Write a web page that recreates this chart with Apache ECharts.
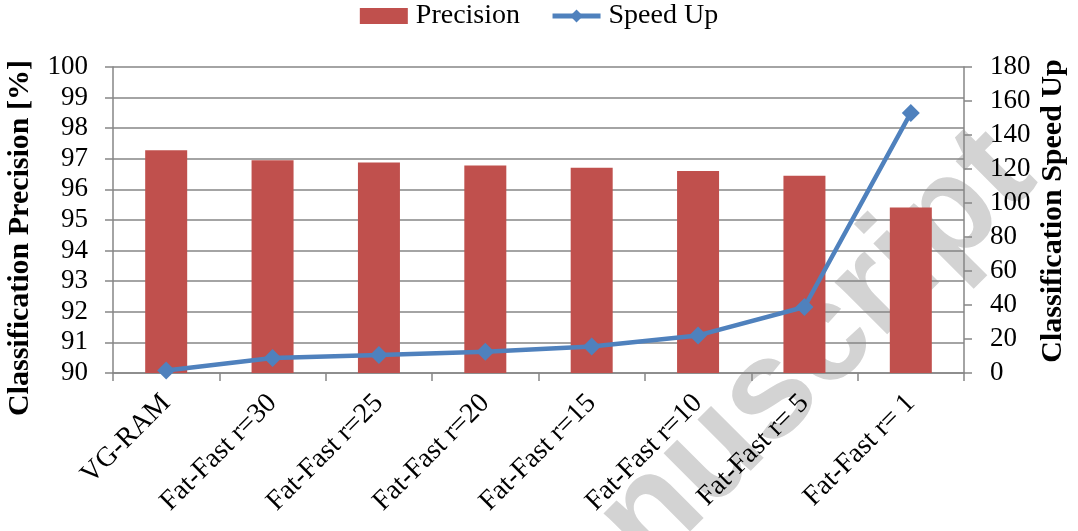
<!DOCTYPE html>
<html>
<head>
<meta charset="utf-8">
<script src="https://cdn.jsdelivr.net/npm/echarts@6/dist/echarts.min.js"></script>
<style>html,body{margin:0;padding:0;background:#fff;}#c{width:1078px;height:531px;}</style>
</head>
<body>
<div id="c"></div>
<script>
const categories = ['VG-RAM', 'Fat-Fast r=30', 'Fat-Fast r=25', 'Fat-Fast r=20', 'Fat-Fast r=15', 'Fat-Fast r=10', 'Fat-Fast r= 5', 'Fat-Fast r= 1'];
const precision = [97.28, 96.95, 96.88, 96.78, 96.71, 96.60, 96.45, 95.41];
const speedUp = [1.5, 8.8, 10.6, 12.5, 15.6, 22.1, 38.8, 153];
const leftTicks = {min: 90, max: 100, interval: 1};
const rightTicks = {min: 0, max: 180, interval: 20};

const serif = '"Liberation Serif", "Times New Roman", serif';
const gridColor = '#868686';
const chart = echarts.init(document.getElementById('c'), null, {renderer: 'canvas'});
chart.setOption({
  animation: false,
  backgroundColor: '#ffffff',
  textStyle: {fontFamily: serif},
  legend: {
    top: -3, left: 'center',
    itemWidth: 48, itemHeight: 16, itemGap: 30,
    textStyle: {fontFamily: serif, fontSize: 28, color: '#000', padding: [0, 0, 0, 3]},
    data: [
      {name: 'Precision', icon: 'rect'},
      {name: 'Speed Up', lineStyle: {width: 5, color: '#4F81BD'}}
    ]
  },
  grid: {left: 113, right: 114, top: 67, bottom: 158, containLabel: false},
  xAxis: {
    type: 'category', data: categories,
    axisLine: {lineStyle: {color: gridColor, width: 1.5}},
    axisTick: {show: true, length: 8, inside: false, alignWithLabel: false, lineStyle: {color: gridColor, width: 1.5}},
    axisLabel: {rotate: 45, margin: 26, fontFamily: serif, fontSize: 28, color: '#000', interval: 0}
  },
  yAxis: [
    {
      type: 'value', min: leftTicks.min, max: leftTicks.max, interval: leftTicks.interval,
      position: 'left',
      axisLine: {show: true, lineStyle: {color: gridColor, width: 1.5}},
      axisTick: {show: true, length: 8, lineStyle: {color: gridColor, width: 1.5}},
      splitLine: {show: true, lineStyle: {color: gridColor, width: 1.5}},
      axisLabel: {margin: 25, fontFamily: serif, fontSize: 27, color: '#000'}
    },
    {
      type: 'value', min: rightTicks.min, max: rightTicks.max, interval: rightTicks.interval,
      position: 'right',
      axisLine: {show: true, lineStyle: {color: gridColor, width: 1.5}},
      axisTick: {show: true, length: 8, lineStyle: {color: gridColor, width: 1.5}},
      splitLine: {show: false},
      axisLabel: {margin: 26, fontFamily: serif, fontSize: 27, color: '#000'}
    }
  ],
  graphic: [
    {
      type: 'text', z: -10, silent: true,
      x: 1062, y: 204, rotation: Math.PI / 4,
      style: {text: 'Accepted Manuscript', fill: '#d3d3d3', font: 'bold 140px "Liberation Sans", Arial, sans-serif', textAlign: 'right', textVerticalAlign: 'bottom'}
    },
    {
      type: 'text', silent: true,
      x: 20, y: 238, rotation: Math.PI / 2,
      style: {text: 'Classification Precision [%]', fill: '#000', font: 'bold 30px ' + serif, textAlign: 'center', textVerticalAlign: 'middle'}
    },
    {
      type: 'text', silent: true,
      x: 1053, y: 211, rotation: Math.PI / 2,
      style: {text: 'Classification Speed Up', fill: '#000', font: 'bold 30px ' + serif, textAlign: 'center', textVerticalAlign: 'middle'}
    }
  ],
  series: [
    {
      name: 'Precision', type: 'bar', yAxisIndex: 0, data: precision,
      barWidth: 42,
      itemStyle: {color: '#C0504D'}
    },
    {
      name: 'Speed Up', type: 'line', yAxisIndex: 1, data: speedUp,
      symbol: 'diamond', symbolSize: 18,
      lineStyle: {color: '#4F81BD', width: 4.5},
      itemStyle: {color: '#4F81BD'},
      z: 5
    }
  ]
});
</script>
</body>
</html>
